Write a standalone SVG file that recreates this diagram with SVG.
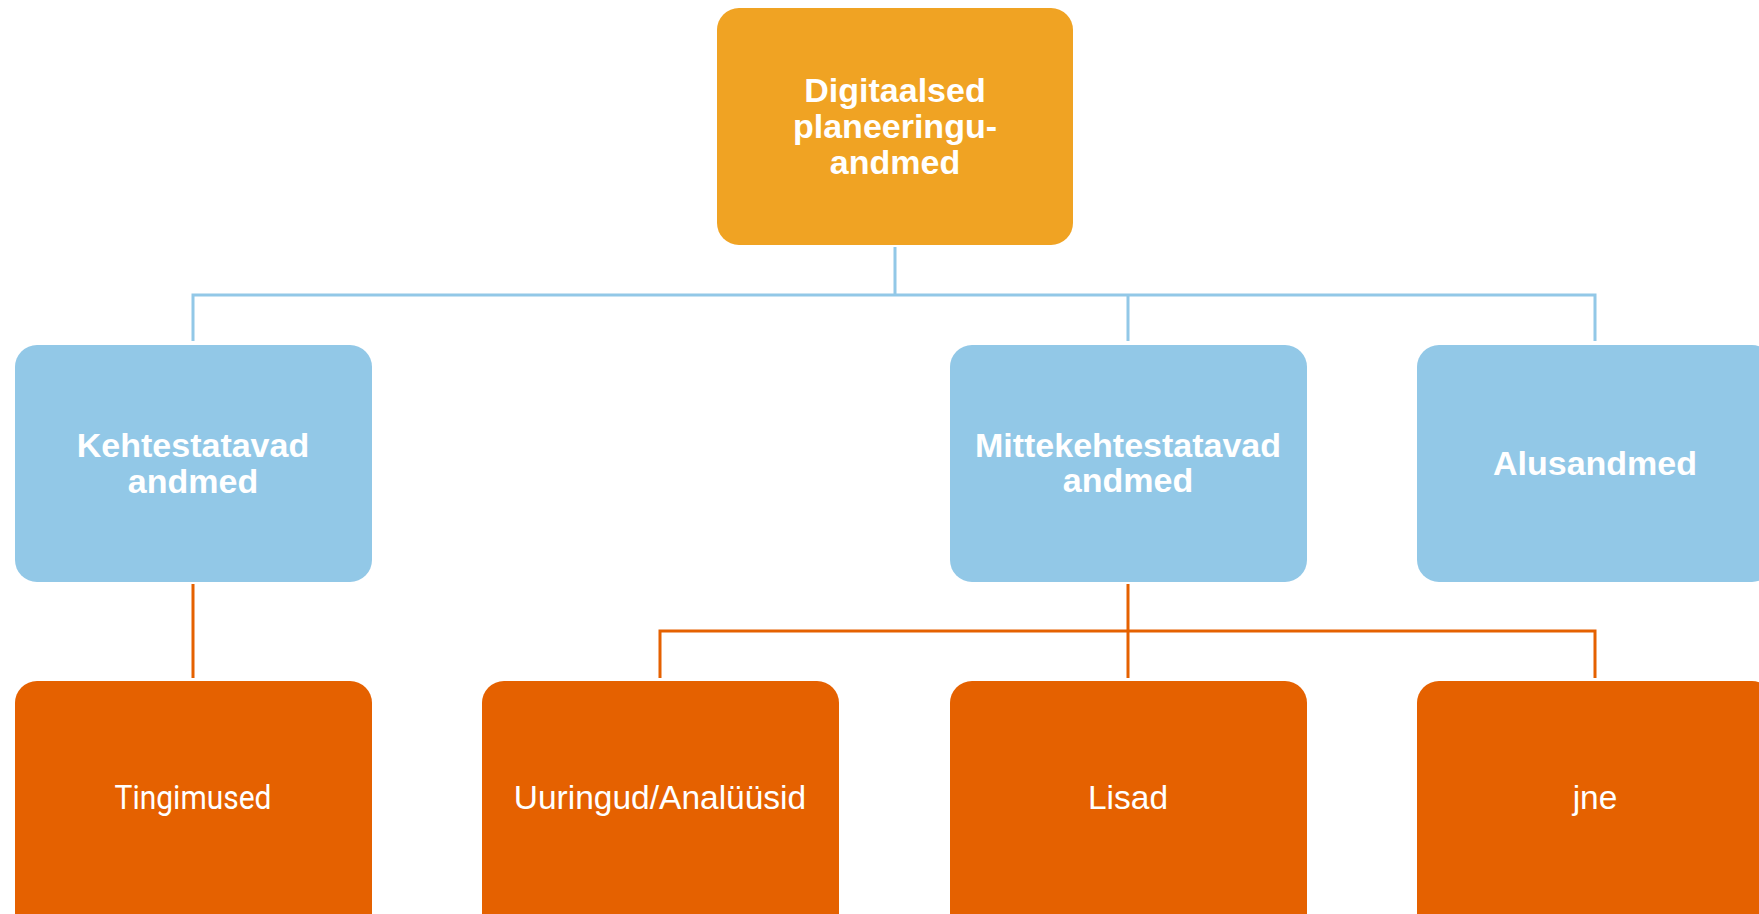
<svg xmlns="http://www.w3.org/2000/svg" width="1759" height="914" viewBox="0 0 1759 914">
<style>
.top{fill:#F0A323}
.blue{fill:#92C8E7}
.org{fill:#E56100}
.bt{font-family:"Liberation Sans",Arial,sans-serif;font-weight:bold;font-size:34px;fill:#fff;text-anchor:middle}
.rt{font-family:"Liberation Sans",Arial,sans-serif;font-size:33.5px;fill:#fff;text-anchor:middle}
.cb{stroke:#92C8E7;stroke-width:3;fill:none}
.co{stroke:#E56100;stroke-width:3;fill:none}
</style>
<rect width="1759" height="914" fill="#fff"/>
<g id="connectors">
<path class="cb" d="M895 247V295M193 341V295H1595V341M1128 295V341"/>
<path class="co" d="M193 584V678M1128 584V678M660 678V631H1595V678"/>
</g>
<g id="n-root">
<rect class="top" x="717" y="8" width="356" height="237" rx="22"/>
<text class="bt" x="895" y="102">Digitaalsed</text>
<text class="bt" x="895" y="138">planeeringu-</text>
<text class="bt" x="895" y="174">andmed</text>
</g>
<g id="n-kehtestatavad">
<rect class="blue" x="15" y="345" width="357" height="237" rx="22"/>
<text class="bt" x="193" y="457">Kehtestatavad</text>
<text class="bt" x="193" y="493">andmed</text>
</g>
<g id="n-mittekehtestatavad">
<rect class="blue" x="950" y="345" width="357" height="237" rx="22"/>
<text class="bt" x="1128" y="457">Mittekehtestatavad</text>
<text class="bt" x="1128" y="492">andmed</text>
</g>
<g id="n-alusandmed">
<rect class="blue" x="1417" y="345" width="357" height="237" rx="22"/>
<text class="bt" x="1595" y="475">Alusandmed</text>
</g>
<g id="n-tingimused">
<rect class="org" x="15" y="681" width="357" height="260" rx="22"/>
<text class="rt" x="193" y="809" style="font-family:Roboto,sans-serif" textLength="157" lengthAdjust="spacingAndGlyphs">Tingimused</text>
</g>
<g id="n-uuringud">
<rect class="org" x="482" y="681" width="357" height="260" rx="22"/>
<text class="rt" x="660" y="809">Uuringud/Analüüsid</text>
</g>
<g id="n-lisad">
<rect class="org" x="950" y="681" width="357" height="260" rx="22"/>
<text class="rt" x="1128" y="809">Lisad</text>
</g>
<g id="n-jne">
<rect class="org" x="1417" y="681" width="357" height="260" rx="22"/>
<text class="rt" x="1595" y="809">jne</text>
</g>
</svg>
